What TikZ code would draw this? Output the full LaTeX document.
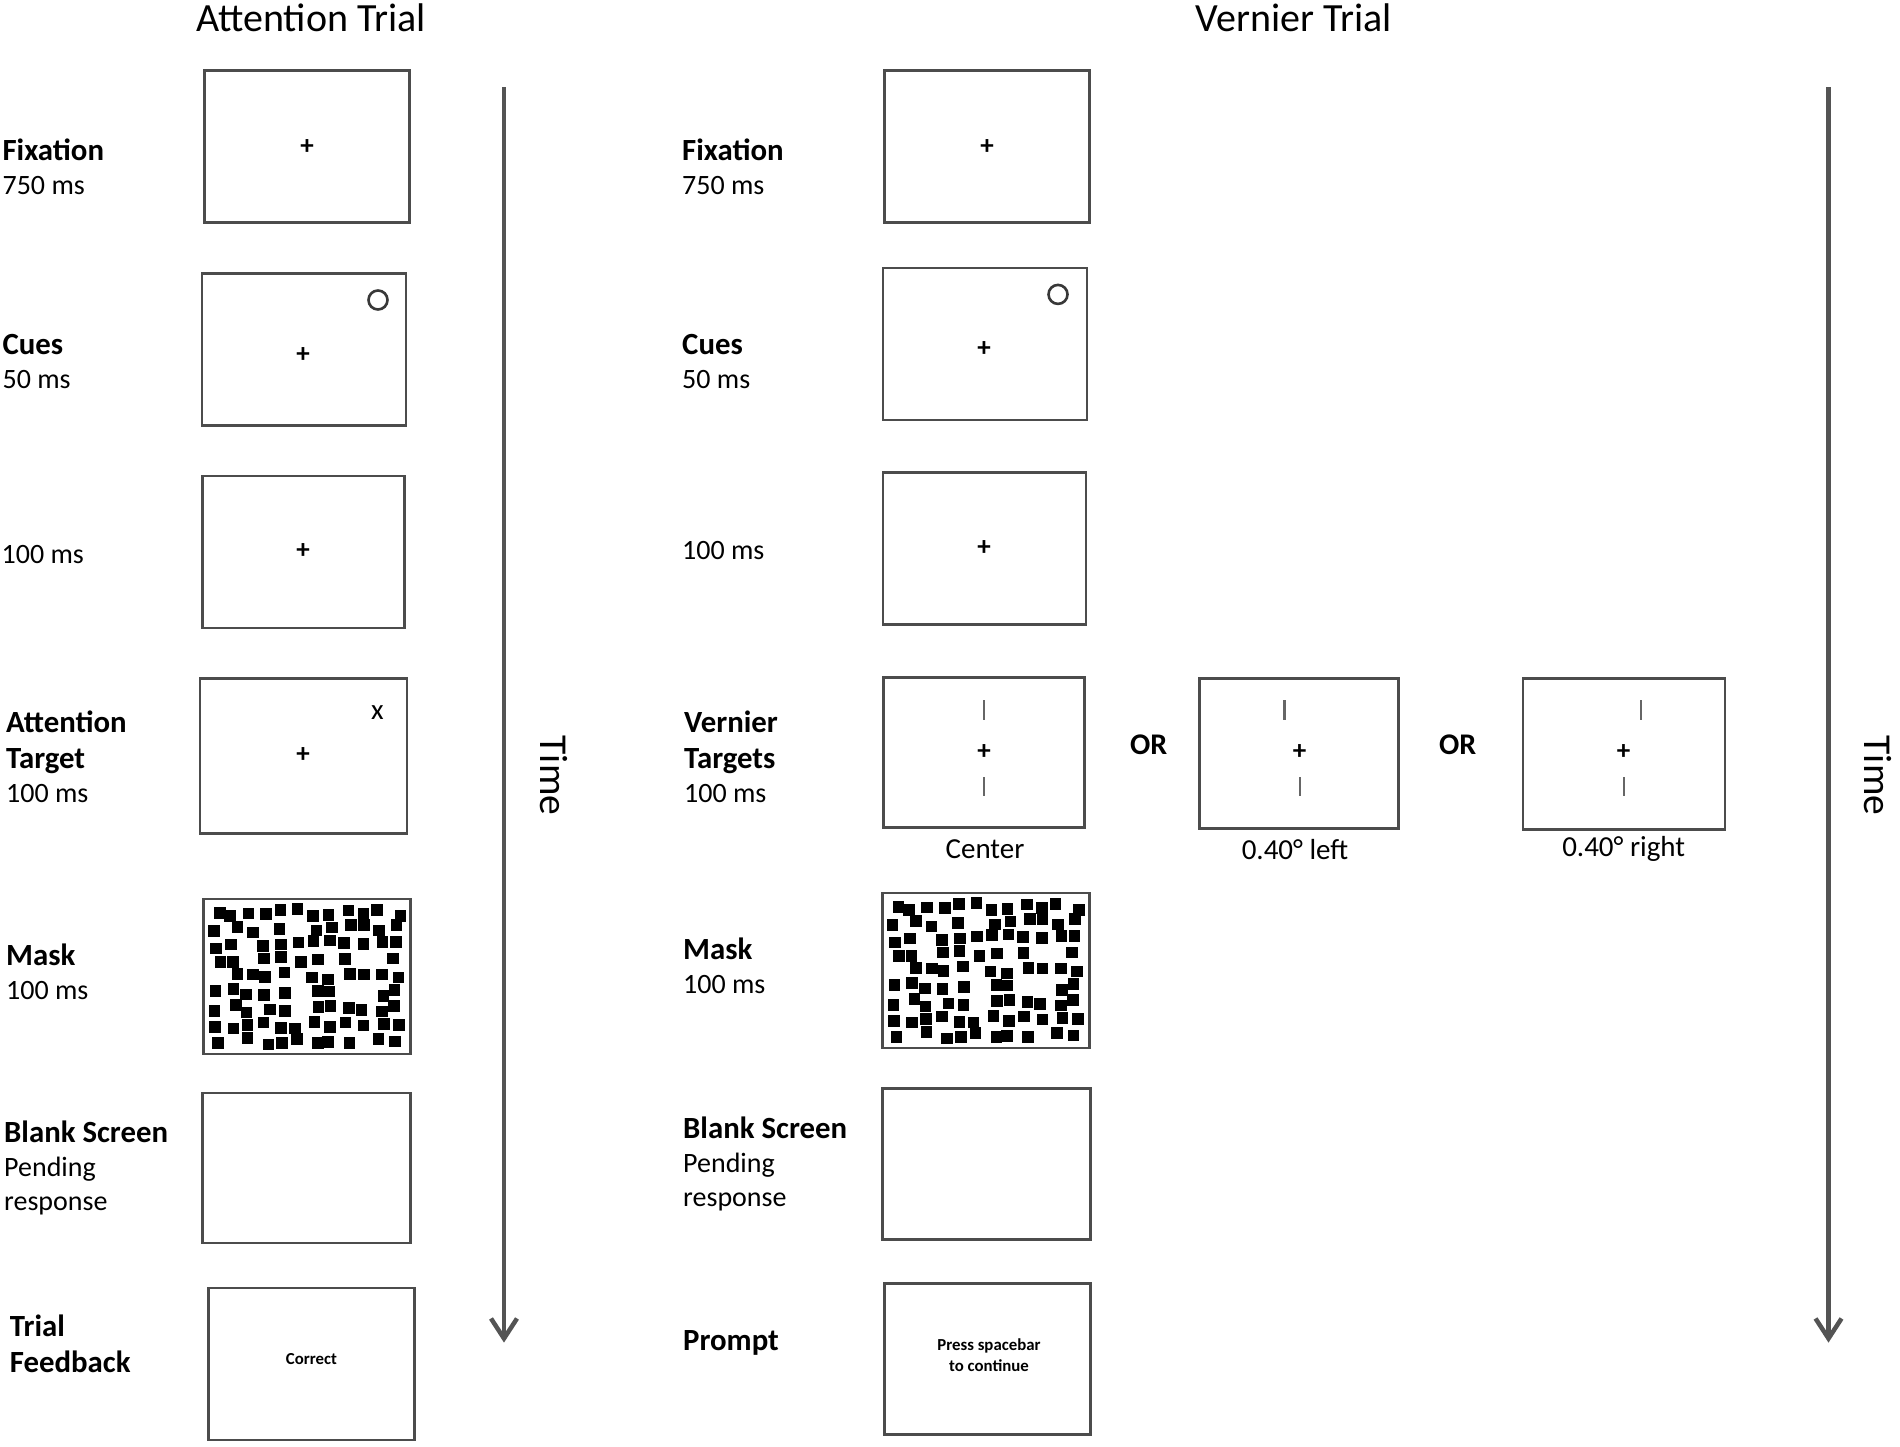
\documentclass[tikz,border=0pt]{standalone}
\usepackage{fontspec}
\setmainfont{Carlito}
\usetikzlibrary{arrows.meta}
\newcommand{\lb}[1]{{\bfseries\fontsize{30.8}{34}\selectfont #1}}
\newcommand{\maskdots}[1]{%
  \begin{scope}[shift={(#1.center)}]
    \pgfmathsetseed{123}
    \foreach \i in {0,...,11}{\foreach \j in {0,...,8}{%
      \pgfmathsetmacro{\mx}{-89.6+16.3*\i+4*rand}%
      \pgfmathsetmacro{\my}{-64+16*\j+4*rand}%
      \pgfmathsetmacro{\mr}{rnd}%
      \ifdim\mr pt<0.1pt\else
        \fill[black] (\mx-5.8,\my-5.8) rectangle ++(11.6,11.6);
      \fi
    }}
  \end{scope}}
\begin{document}
\begin{tikzpicture}[x=1pt,y=-1pt,
  screen/.style={draw=black!70, line width=2.6pt, minimum width=205pt, minimum height=152pt, inner sep=0pt},
  lbl/.style={anchor=west, align=left, inner sep=0pt, font=\fontsize{28}{34}\selectfont},
  ttl/.style={inner sep=0pt, font=\fontsize{40}{46}\selectfont},
  fixplus/.style={inner sep=0pt, font=\bfseries\fontsize{27}{27}\selectfont},
  sublbl/.style={inner sep=0pt, font=\fontsize{29}{34}\selectfont},
  orlbl/.style={inner sep=0pt, font=\bfseries\fontsize{30}{34}\selectfont},
  small/.style={inner sep=0pt, align=center, font=\bfseries\fontsize{16.8}{20.5}\selectfont},
  cuering/.style={draw=black!78, line width=2.6pt},
  vline/.style={draw=black!60, line width=2.2pt},
  timearrow/.style={draw=black!67, line width=4.5pt, -{Straight Barb[length=20pt,width=26pt,line width=4.5pt]}},
  timelbl/.style={inner sep=0pt, rotate=-90, font=\fontsize{39.5}{44}\selectfont}]
\fill[white] (0,0) rectangle (1900,1446);
\useasboundingbox (0,0) rectangle (1900,1446);

% titles
\node[ttl] (tA) at (311,18) {Attention Trial};
\node[ttl] (tV) at (1294,18) {Vernier Trial};

% ---------------- Attention trial ----------------
\node[screen] (a1) at (307,146.6) {};
\node[screen, minimum width=204pt] (a2) at (304,349.6) {};
\node[screen, minimum width=202pt] (a3) at (303.5,552) {};
\node[screen, minimum width=207pt, minimum height=155pt] (a4) at (303.5,756) {};
\node[screen, minimum width=207pt, minimum height=155pt] (a5) at (307,976.6) {};
\node[screen, minimum width=208pt, minimum height=150pt] (a6) at (306.6,1168) {};
\node[screen, minimum width=206pt] (a7) at (311.4,1363.8) {};

\node[fixplus] (pa1) at (307,146.6) {+};
\node[fixplus] (pa2) at (303,355) {+};
\node[fixplus] (pa3) at (303,551.5) {+};
\node[fixplus] (pa4) at (303,755) {+};
\draw[cuering] (378,300) circle (9.5);
\node[sublbl] (xa4) at (377.5,713) {x};
\maskdots{a5}
\node[small] (corr) at (311.4,1359.5) {Correct};

\node[lbl] (lA1) at (2.4,167.2) {\lb{Fixation}\\750 ms};
\node[lbl] (lA2) at (2.4,361) {\lb{Cues}\\50 ms};
\node[lbl] (lA3) at (1.5,555) {100 ms};
\node[lbl] (lA4) at (6,756.7) {\lb{Attention}\\[2pt]\lb{Target}\\100 ms};
\node[lbl] (lA5) at (6,971.8) {\lb{Mask}\\100 ms};
\node[lbl] (lA6) at (4,1168) {\lb{Blank Screen}\\Pending\\response};
\node[lbl] (lA7) at (9.7,1343.8) {\lb{Trial}\\[2pt]\lb{Feedback}};

\coordinate (s1) at (504,87);
\coordinate (e1) at (504,1342.6);
\draw[timearrow] (s1) -- (e1);
\node[timelbl] (time1) at (553.8,775.5) {Time};

% ---------------- Vernier trial ----------------
\node[screen] (v1) at (987,146.6) {};
\node[screen, minimum width=204pt] (v2) at (985,344) {};
\node[screen, minimum width=203pt] (v3) at (984.5,548.3) {};
\node[screen, minimum width=201pt, minimum height=150pt] (v4) at (984,752.5) {};
\node[screen, minimum width=207pt, minimum height=155pt] (v5) at (985.7,970.6) {};
\node[screen, minimum width=208pt, minimum height=151pt] (v6) at (986.3,1163.8) {};
\node[screen, minimum width=206pt, minimum height=151pt] (v7) at (987.5,1359) {};

\node[fixplus] (pv1) at (987,146.6) {+};
\node[fixplus] (pv2) at (984,349) {+};
\node[fixplus] (pv3) at (984,547.7) {+};
\node[fixplus] (pv4) at (984,752.5) {+};
\draw[cuering] (1058,294.4) circle (9.5);
\draw[vline] (984,700) -- (984,720);
\draw[vline] (984,777) -- (984,796);
\maskdots{v5}
\node[small] (prompt) at (989,1355) {Press spacebar\\to continue};

\node[screen, minimum width=199pt, minimum height=150pt] (vL) at (1299,753.7) {};
\node[fixplus] (pvL) at (1299.5,752.5) {+};
\draw[vline] (1284.4,700) -- (1284.4,720);
\draw[vline] (1300,777) -- (1300,796);

\node[screen, minimum width=202pt, minimum height=151pt] (vR) at (1624,754) {};
\node[fixplus] (pvR) at (1623.7,752.5) {+};
\draw[vline] (1640.6,700) -- (1640.6,720);
\draw[vline] (1624,777) -- (1624,796);

\node[orlbl] (or1) at (1148.7,745.2) {OR};
\node[orlbl] (or2) at (1457.7,745.2) {OR};

\node[sublbl] (cC) at (985,849.4) {Center};
\node[sublbl] (cL) at (1295,849.4) {0.40° left};
\node[sublbl] (cR) at (1623.7,849.4) {0.40° right};

\node[lbl] (lV1) at (682,167.2) {\lb{Fixation}\\750 ms};
\node[lbl] (lV2) at (682,361) {\lb{Cues}\\50 ms};
\node[lbl] (lV3) at (682,551) {100 ms};
\node[lbl] (lV4) at (684,757) {\lb{Vernier}\\[2pt]\lb{Targets}\\100 ms};
\node[lbl] (lV5) at (683,965.7) {\lb{Mask}\\100 ms};
\node[lbl] (lV6) at (683,1164.4) {\lb{Blank Screen}\\Pending\\response};
\node[lbl] (lV7) at (683,1343) {\lb{Prompt}};

\coordinate (s2) at (1828.5,87);
\coordinate (e2) at (1828.5,1342.6);
\draw[timearrow] (s2) -- (e2);
\node[timelbl] (time2) at (1878,775.5) {Time};
\end{tikzpicture}
\end{document}
